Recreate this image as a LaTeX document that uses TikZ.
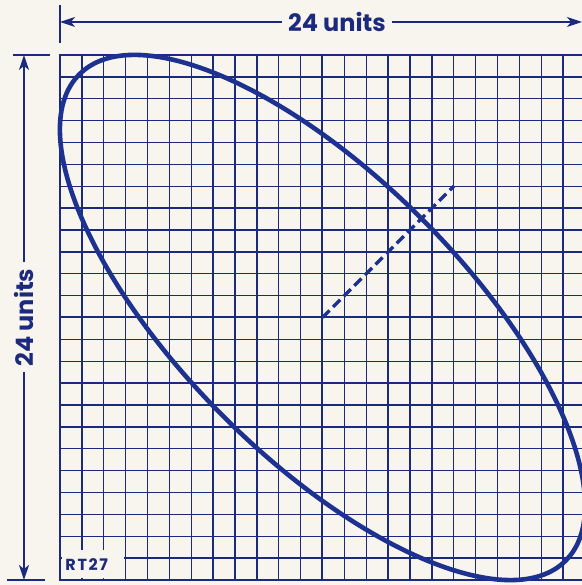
\documentclass[tikz,border=0pt]{standalone}
\usepackage{fontspec}
\setmainfont{Poppins}
\usetikzlibrary{arrows.meta}
\definecolor{ink}{HTML}{1B2A7C}
\definecolor{curve}{HTML}{1C3190}
\definecolor{paper}{HTML}{F8F4EE}
\begin{document}
\begin{tikzpicture}[x=21.875pt,y=21.875pt,
  gridline/.style={ink, line width=1.4pt},
  axisline/.style={ink, line width=2pt},
  ellipseline/.style={curve, line width=4.6pt},
  dashline/.style={curve, line width=3.2pt, dash pattern=on 10pt off 5pt},
  dimline/.style={ink, line width=1.3pt},
  dimarrow/.style={ink, line width=1.3pt, -{Stealth[length=15pt,width=10pt,inset=4pt]}},
  dimlabel/.style={text=ink, font=\fontsize{24}{26}\selectfont\bfseries, inner sep=6pt},
  codelabel/.style={text=ink, font=\fontsize{16}{18}\selectfont\bfseries\addfontfeature{LetterSpace=10}, inner sep=0pt}]
\fill[paper] (-14.743,-12.229) rectangle (11.863,14.514);
\useasboundingbox (-14.743,-12.229) rectangle (11.863,14.514);
% grid
\begin{scope}
\clip (-12.2,-12.2) rectangle (11.863,12.2);
\foreach \i in {-12,...,12} {
  \draw[gridline] (-12,\i) -- (12,\i);
  \draw[gridline] (\i,-12) -- (\i,12);
}
\draw[axisline] (-12,0) -- (12,0);
\draw[axisline] (0,-12) -- (0,12);
\draw[gridline, line width=1.8pt] (-12,-12) rectangle (12,12);
\end{scope}
% label area
\fill[paper] (-11.93,-11.93) rectangle (-9.07,-10.63);
\node[codelabel] (code) at (-10.78,-11.31) {RT27};
% ellipse and dashed semi-axis
\coordinate (ctr) at (0,0);
\coordinate (dend) at (6,6);
\draw[ellipseline, rotate=-45] (ctr) ellipse [x radius=15.72, y radius=6.4];
\draw[dashline] (ctr) -- (dend);
% top dimension
\coordinate (tl) at (-12,13.51);
\coordinate (tr) at (11.863,13.51);
\coordinate (ta) at (-12,14.29);
\coordinate (tb) at (-12,12.55);
\draw[dimline] (ta) -- (tb);
\node[dimlabel] (toplabel) at (0.66,13.51) {24 units};
\draw[dimarrow] (toplabel) -- (tl);
\draw[dimarrow] (toplabel) -- (tr);
% left dimension
\coordinate (lt) at (-13.646,12);
\coordinate (lb) at (-13.646,-12);
\coordinate (lta) at (-14.15,12);
\coordinate (ltb) at (-12.46,12);
\coordinate (lba) at (-14.42,-12);
\coordinate (lbb) at (-12.68,-12);
\draw[dimline] (lta) -- (ltb);
\draw[dimline] (lba) -- (lbb);
\node[dimlabel, rotate=90] (leftlabel) at (-13.646,0.0) {24 units};
\draw[dimarrow] (leftlabel) -- (lt);
\draw[dimarrow] (leftlabel) -- (lb);
\end{tikzpicture}
\end{document}
